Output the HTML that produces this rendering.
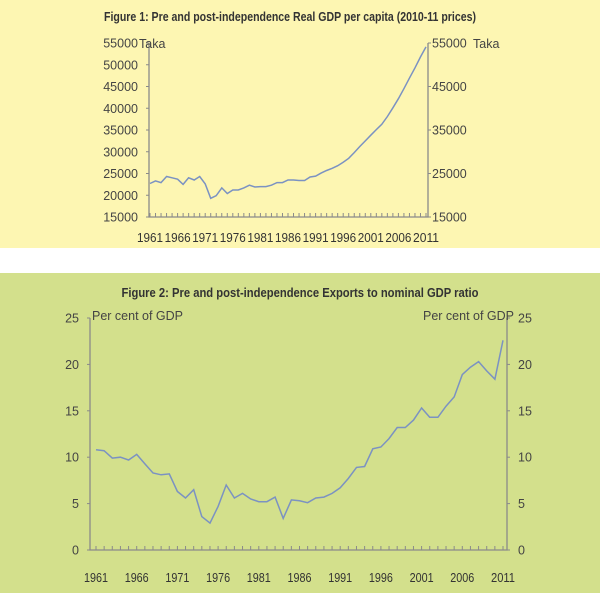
<!DOCTYPE html>
<html><head><meta charset="utf-8"><style>
html,body{margin:0;padding:0;background:#fff;}
svg{display:block;font-family:"Liberation Sans",sans-serif;}
</style></head><body>
<svg id="c" width="600" height="593" viewBox="0 0 600 593">
<rect x="0" y="0" width="600" height="248" fill="#fdf6b2"/>
<rect x="0" y="273" width="600" height="320" fill="#d3e08c"/>
<text x="290" y="21" text-anchor="middle" font-size="13" font-weight="bold" fill="#333" textLength="372" lengthAdjust="spacingAndGlyphs">Figure 1: Pre and post-independence Real GDP per capita (2010-11 prices)</text>
<text x="300" y="297" text-anchor="middle" font-size="13" font-weight="bold" fill="#333" textLength="357" lengthAdjust="spacingAndGlyphs">Figure 2: Pre and post-independence Exports to nominal GDP ratio</text>
<g id="g1"></g><g id="g2"></g>
</svg>
<script>
var years = [];
for (var y = 1961; y <= 2011; y++) years.push(y);
var xTickYears = [1961,1966,1971,1976,1981,1986,1991,1996,2001,2006,2011];
var gdpValues = [22700,23300,22900,24300,24000,23700,22500,24000,23500,24300,22600,19300,19900,21700,20400,21200,21200,21700,22300,21900,22000,22000,22300,22900,22900,23500,23500,23400,23400,24200,24400,25100,25700,26200,26800,27600,28500,29800,31200,32500,33800,35100,36300,38100,40100,42200,44500,46900,49300,51800,54100];
var gdpLeftTicks = [15000,20000,25000,30000,35000,40000,45000,50000,55000];
var gdpRightTicks = [15000,25000,35000,45000,55000];
var expValues = [10.8,10.7,9.9,10.0,9.7,10.3,9.3,8.3,8.1,8.2,6.3,5.6,6.5,3.6,2.9,4.7,7.0,5.6,6.1,5.5,5.2,5.2,5.7,3.4,5.4,5.3,5.1,5.6,5.7,6.1,6.7,7.7,8.9,9.0,10.9,11.1,12.0,13.2,13.2,14.0,15.3,14.3,14.3,15.5,16.5,18.9,19.7,20.3,19.3,18.4,22.6];
var expTicks = [0,5,10,15,20,25];

var NS = "http://www.w3.org/2000/svg";
function mk(parent, tag, attrs) {
  var e = document.createElementNS(NS, tag);
  for (var k in attrs) e.setAttribute(k, attrs[k]);
  parent.appendChild(e);
  return e;
}
function drawChart(g, cfg) {
  var sx = function (yr) { return cfg.x0 + (yr - 1961) / 50 * (cfg.x1 - cfg.x0); };
  var sy = function (v) { return cfg.yb - (v - cfg.vmin) / (cfg.vmax - cfg.vmin) * (cfg.yb - cfg.yt); };
  var ax = mk(g, "path", {d: "M" + cfg.axL + "," + cfg.yt + "V" + cfg.yb + "H" + cfg.axR + "V" + cfg.yt, fill: "none", stroke: "#8a8a8a", "stroke-width": 1.3});
  
  
  cfg.leftTicks.forEach(function (v) {
    var t = mk(g, "line", {x1: cfg.axL - 3, x2: cfg.axL, y1: sy(v), y2: sy(v), stroke: "#8a8a8a"});
    
    
    var l = mk(g, "text", {x: cfg.axL - cfg.lpad, y: sy(v) + 4.5, "text-anchor": "end", "font-size": 12.5, fill: "#444"});
    l.textContent = v;
    
    
  });
  cfg.rightTicks.forEach(function (v) {
    var t = mk(g, "line", {x1: cfg.axR, x2: cfg.axR + 3, y1: sy(v), y2: sy(v), stroke: "#8a8a8a"});
    
    
    var l = mk(g, "text", {x: cfg.axR + cfg.rpad, y: sy(v) + 4.5, "font-size": 12.5, fill: "#444"});
    l.textContent = v;
    
    
  });
  years.forEach(function (yr) {
    var t = mk(g, "line", {x1: sx(yr), x2: sx(yr), y1: cfg.yb, y2: cfg.yb - 4, stroke: "#8a8a8a"});
    
    
  });
  xTickYears.forEach(function (yr) {
    var l = mk(g, "text", {x: sx(yr), y: cfg.xly, "text-anchor": "middle", "font-size": 12.5, fill: "#333", textLength: cfg.xlw, lengthAdjust: "spacingAndGlyphs"});
    l.textContent = yr;
    
    
  });
  var d = "";
  cfg.values.forEach(function (v, i) { d += (i ? "L" : "M") + sx(years[i]).toFixed(1) + "," + sy(v).toFixed(1); });
  var line = mk(g, "path", {d: d, fill: "none", stroke: "#7b92c2", "stroke-width": 1.5});
  
  
  cfg.units.forEach(function (u) {
    var l = mk(g, "text", {x: u.x, y: u.y, "text-anchor": u.a, "font-size": 12.5, fill: "#444"});
    l.textContent = u.t;
    
    
  });
}
drawChart(document.getElementById("g1"), {
  p: "gdp", x0: 150, x1: 426, axL: 149, axR: 428, yt: 43, yb: 217, vmin: 15000, vmax: 55000,
  values: gdpValues, leftTicks: gdpLeftTicks, rightTicks: gdpRightTicks, lpad: 11, rpad: 4, xly: 242, xlw: 26,
  units: [{x: 139, y: 48, a: "start", t: "Taka", n: "left-unit-label"}, {x: 473, y: 48, a: "start", t: "Taka", n: "right-unit-label"}]
});
drawChart(document.getElementById("g2"), {
  p: "exports", x0: 96, x1: 503, axL: 90, axR: 507, yt: 318, yb: 550, vmin: 0, vmax: 25,
  values: expValues, leftTicks: expTicks, rightTicks: expTicks, lpad: 11, rpad: 11, xly: 582, xlw: 24,
  units: [{x: 92, y: 320, a: "start", t: "Per cent of GDP", n: "left-unit-label"}, {x: 514, y: 320, a: "end", t: "Per cent of GDP", n: "right-unit-label"}]
});
</script>
</body></html>
